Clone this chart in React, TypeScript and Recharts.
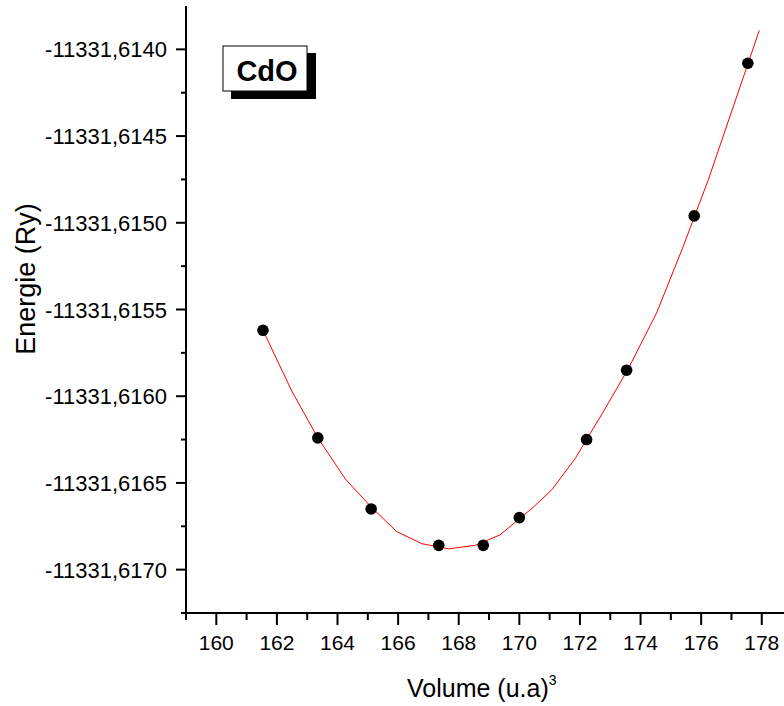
import { ComposedChart, Line, Scatter, XAxis, YAxis } from 'recharts';

// measured points
const volume = [161.54, 163.35, 165.11, 167.34, 168.81, 170.0, 172.22, 173.54, 175.77, 177.54];
const energy = [
  -11331.61562, -11331.61624, -11331.61665, -11331.61686, -11331.61686,
  -11331.6167, -11331.61625, -11331.61585, -11331.61496, -11331.61408,
];

// fitted curve
const fitVolume = [
  161.54, 162.49, 163.35, 164.27, 165.12, 165.95, 166.78, 167.66, 168.54, 169.36,
  170.46, 171.07, 171.84, 172.77, 173.6, 174.53, 175.4, 176.24, 177.1, 177.92,
];
const fitEnergy = [
  -11331.61562, -11331.61597, -11331.61624, -11331.61648, -11331.61664, -11331.61678,
  -11331.61685, -11331.61688, -11331.61686, -11331.6168, -11331.61664, -11331.61654,
  -11331.61636, -11331.61609, -11331.61584, -11331.61552, -11331.61514, -11331.61475,
  -11331.61431, -11331.61389,
];

const xTicks = [159, 160, 161, 162, 163, 164, 165, 166, 167, 168, 169, 170, 171, 172, 173, 174, 175, 176, 177, 178];
const xMajor = [160, 162, 164, 166, 168, 170, 172, 174, 176, 178];
const topTicks = [161, 163, 165, 167, 169, 171, 173, 175, 177];
const topMajor = [163, 167, 171, 175];
const yMajor = [-11331.617, -11331.6165, -11331.616, -11331.6155, -11331.615, -11331.6145, -11331.614];
const yMinor = [-11331.61725, -11331.61675, -11331.61625, -11331.61575, -11331.61525, -11331.61475, -11331.61425];
const rightTicks = [0, 1, 2, 3, 4, 5];

const FONT = '"Liberation Sans", Arial, sans-serif';

const points = volume.map((v, i) => ({ v, e: energy[i] }));
const fit = fitVolume.map((v, i) => ({ v, e: fitEnergy[i] }));

const near = (list: number[], v: number) => list.some((t) => Math.abs(t - v) < 1e-7);

function BottomTick({ x, y, payload }: any) {
  const major = near(xMajor, payload.value);
  return (
    <g>
      <line x1={x} x2={x} y1={y} y2={y + (major ? 12 : 7)} stroke="#000" strokeWidth={2} />
      {major && (
        <text x={x} y={y + 37} textAnchor="middle" fontSize={21} fontFamily={FONT} fill="#000">
          {payload.value}
        </text>
      )}
    </g>
  );
}

function TopTick({ x, y, payload }: any) {
  const major = near(topMajor, payload.value);
  return <line x1={x} x2={x} y1={y} y2={y + (major ? 11 : 6)} stroke="#000" strokeWidth={2} />;
}

function LeftTick({ x, y, payload }: any) {
  const major = near(yMajor, payload.value);
  return (
    <g>
      <line x1={x - (major ? 10 : 5)} x2={x} y1={y} y2={y} stroke="#000" strokeWidth={2} />
      {major && (
        <text x={x - 19} y={y + 8} textAnchor="end" fontSize={22} fontFamily={FONT} fill="#000">
          {payload.value.toFixed(4).replace('.', ',')}
        </text>
      )}
    </g>
  );
}

function RightTick({ x, y }: any) {
  return <line x1={x - 5} x2={x} y1={y} y2={y} stroke="#000" strokeWidth={2} />;
}

const Dot = (props: any) => <circle cx={props.cx} cy={props.cy} r={5.8} fill="#000" />;

export default function App() {
  return (
    <div style={{ position: 'fixed', left: 0, top: 0, width: 784, height: 706, overflow: 'hidden', background: '#fff' }}>
      <ComposedChart width={800} height={706} margin={{ top: 6, right: 14, bottom: 0, left: 0 }}>
        <XAxis
          xAxisId="bottom"
          type="number"
          dataKey="v"
          domain={[159, 178.8]}
          ticks={xTicks}
          interval={0}
          height={93}
          tickSize={0}
          tickMargin={0}
          tickLine={false}
          axisLine={{ stroke: '#000', strokeWidth: 2 }}
          tick={<BottomTick />}
          allowDataOverflow
        />
        <XAxis
          xAxisId="top"
          orientation="top"
          type="number"
          domain={[159, 178.8]}
          ticks={topTicks}
          interval={0}
          height={0}
          tickSize={0}
          tickMargin={0}
          tickLine={false}
          axisLine={{ stroke: '#000', strokeWidth: 2 }}
          tick={<TopTick />}
          allowDataOverflow
        />
        <YAxis
          yAxisId="left"
          type="number"
          dataKey="e"
          domain={[-11331.61725, -11331.61375]}
          ticks={[...yMinor, ...yMajor].sort((a, b) => a - b)}
          interval={0}
          width={186}
          tickSize={0}
          tickMargin={0}
          tickLine={false}
          axisLine={{ stroke: '#000', strokeWidth: 2 }}
          tick={<LeftTick />}
          allowDataOverflow
        />
        <YAxis
          yAxisId="right"
          orientation="right"
          type="number"
          domain={[0, 5]}
          ticks={rightTicks}
          interval={0}
          width={0}
          tickSize={0}
          tickMargin={0}
          tickLine={false}
          axisLine={{ stroke: '#000', strokeWidth: 2 }}
          tick={<RightTick />}
          allowDataOverflow
        />
        <Scatter
          xAxisId="bottom"
          yAxisId="left"
          data={points}
          dataKey="e"
          shape={<Dot />}
          isAnimationActive={false}
        />
        <Line
          xAxisId="bottom"
          yAxisId="left"
          data={fit}
          dataKey="e"
          type="linear"
          stroke="#ff0000"
          strokeWidth={1}
          dot={false}
          activeDot={false}
          isAnimationActive={false}
        />
      </ComposedChart>
      <svg width={784} height={706} style={{ position: 'absolute', left: 0, top: 0, pointerEvents: 'none' }}>
        <text
          transform="translate(35, 279) rotate(-90)"
          textAnchor="middle"
          fontSize={27}
          fontFamily={FONT}
          fill="#000"
        >
          Energie (Ry)
        </text>
        <text x={407} y={697} fontSize={25} fontFamily={FONT} fill="#000">
          Volume (u.a)
          <tspan fontSize={14} dy={-12}>3</tspan>
        </text>
        <rect x={231} y={53} width={85} height={46} fill="#000" />
        <rect x={223} y={46} width={84} height={45} fill="#fff" stroke="#000" strokeWidth={1} />
        <text x={267} y={81} textAnchor="middle" fontSize={29} fontWeight="bold" fontFamily={FONT} fill="#000">
          CdO
        </text>
      </svg>
    </div>
  );
}
